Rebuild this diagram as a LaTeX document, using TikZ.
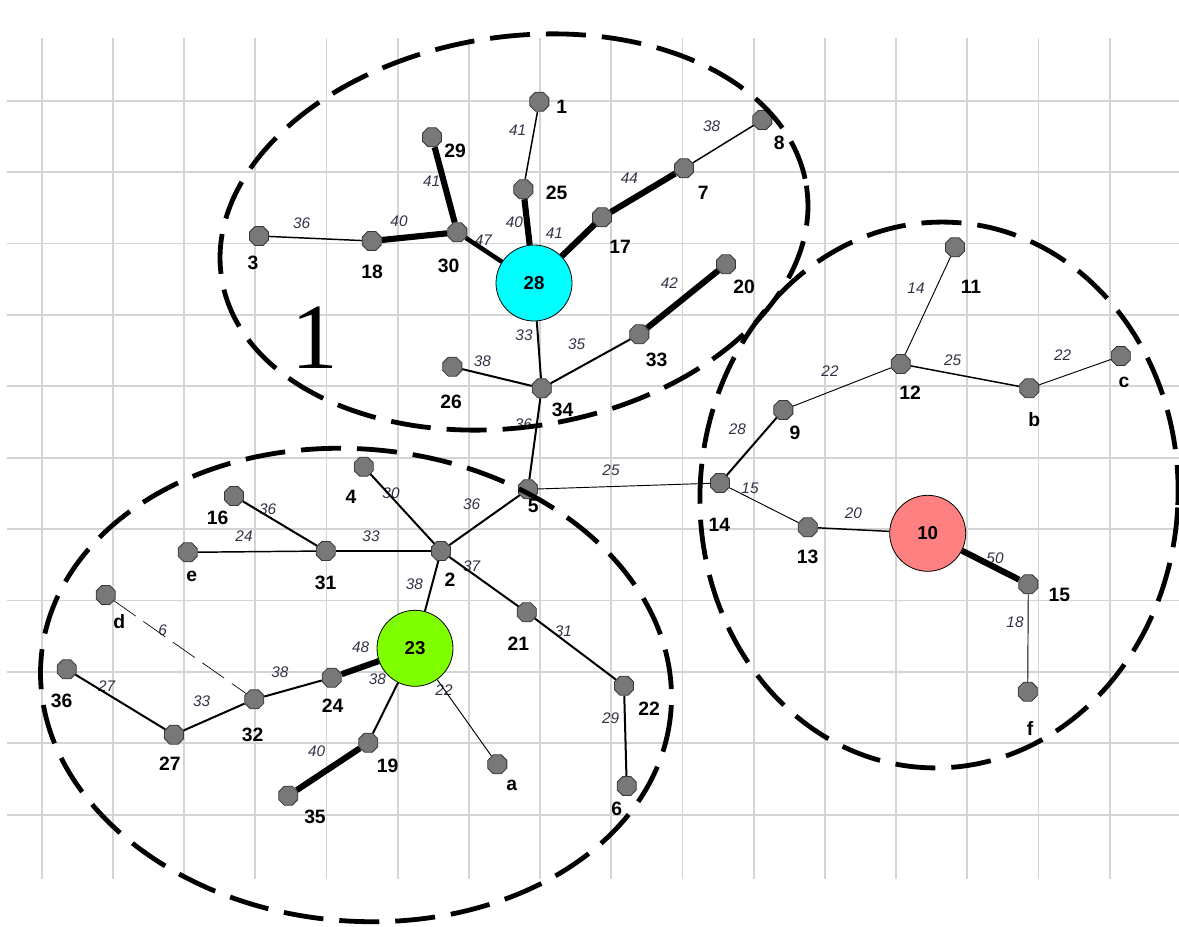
\documentclass[tikz,border=0pt]{standalone}
\usepackage{fontspec}
\setmainfont{Liberation Sans}
\newfontfamily\tagserif{Liberation Serif}
\usetikzlibrary{shapes.geometric}
\pgfdeclarelayer{grid}
\pgfdeclarelayer{edges}
\pgfsetlayers{grid,edges,main}

\definecolor{nodegray}{RGB}{120,120,120}
\definecolor{rimgray}{RGB}{55,55,55}
\definecolor{gridgray}{RGB}{212,212,212}
\definecolor{wtcol}{RGB}{50,50,70}
\definecolor{hubcyan}{RGB}{0,255,255}
\definecolor{hubgreen}{RGB}{128,255,0}
\definecolor{hubred}{RGB}{255,128,128}

\tikzset{
  vtx/.style={regular polygon, regular polygon sides=8, draw=rimgray, fill=nodegray, line width=0.6pt, minimum size=15.5pt, inner sep=0pt},
  hub/.style={circle, draw=black, line width=0.6pt, minimum size=57pt, inner sep=0pt, font=\fontsize{14}{14}\selectfont\bfseries},
  lbl/.style={inner sep=0pt, font=\fontsize{14.5}{14.5}\selectfont\bfseries},
  wt/.style={inner sep=0pt, text=wtcol, font=\fontsize{11.5}{11.5}\selectfont\itshape},
  gridline/.style={draw=gridgray, line width=1.4pt},
  ring/.style={draw=black, line width=3.6pt, dash pattern=on 30pt off 12pt},
  edgeA/.style={line width=0.7pt},
  edgeB/.style={line width=1.1pt},
  edgeC/.style={line width=1.5pt},
  edgeD/.style={line width=3.4pt},
  edgeE/.style={line width=4.6pt},
  faint/.style={line width=0.5pt, dash pattern=on 20pt off 7pt}
}

\begin{document}
\begin{tikzpicture}[x=0.75pt,y=0.75pt,yscale=-1,xscale=1]
\useasboundingbox (0,0) rectangle (1179,927);

%Grid
\begin{pgfonlayer}{grid}
\foreach \gx in {0,...,15}
  \draw[gridline] ({41.7+71.2*\gx},38) -- ({41.7+71.2*\gx},879);
\foreach \gy in {0,...,10}
  \draw[gridline] (7,{100.7+71.4*\gy}) -- (1179,{100.7+71.4*\gy});
\end{pgfonlayer}

%Shape: big nodes
\node[hub, fill=hubcyan] (n28) at (534,283) {28};
\node[hub, fill=hubgreen] (n23) at (415,648.3) {23};
\node[hub, fill=hubred] (n10) at (927.7,533.3) {10};

%Shape: small nodes
\node[vtx] (n1) at (539.3,101.7) {};
\node[vtx] (n29) at (432,137.3) {};
\node[vtx] (n25) at (523.3,189.3) {};
\node[vtx] (n3) at (259,236) {};
\node[vtx] (n18) at (371.7,241) {};
\node[vtx] (n30) at (457.3,232.3) {};
\node[vtx] (n8) at (762.3,120) {};
\node[vtx] (n7) at (684,168.3) {};
\node[vtx] (n17) at (602,217.3) {};
\node[vtx] (n20) at (726,264.3) {};
\node[vtx] (n33) at (639.3,334.3) {};
\node[vtx] (n26) at (452.3,366.7) {};
\node[vtx] (n34) at (541.7,388.3) {};
\node[vtx] (n5) at (528,489.3) {};
\node[vtx] (n14) at (720,483) {};
\node[vtx] (n4) at (363.7,466.7) {};
\node[vtx] (n16) at (234,496) {};
\node[vtx] (ne) at (187.7,552.3) {};
\node[vtx] (n31) at (325.7,551) {};
\node[vtx] (n2) at (441,551) {};
\node[vtx] (nd) at (105.7,595) {};
\node[vtx] (n36) at (66.7,669.3) {};
\node[vtx] (n27) at (174,734.7) {};
\node[vtx] (n32) at (254.3,699.3) {};
\node[vtx] (n24) at (331.7,677.7) {};
\node[vtx] (n35) at (288.3,795.7) {};
\node[vtx] (n21) at (526.7,612.3) {};
\node[vtx] (n22) at (624,685.7) {};
\node[vtx] (n19) at (368.3,742.7) {};
\node[vtx] (na) at (497.3,764.3) {};
\node[vtx] (n6) at (626.7,786) {};
\node[vtx] (n11) at (955,247.3) {};
\node[vtx] (n12) at (900.7,364) {};
\node[vtx] (nb) at (1029.3,388.3) {};
\node[vtx] (nc) at (1120.7,356) {};
\node[vtx] (n9) at (783.3,410) {};
\node[vtx] (n13) at (807.7,527.3) {};
\node[vtx] (n15) at (1028.3,584.3) {};
\node[vtx] (nf) at (1027.7,691.7) {};

% Text Node: vertex names
\node[lbl] (l1) at (561.7,106.7) {1};
\node[lbl] (l29) at (455,151) {29};
\node[lbl] (l25) at (556.7,193.3) {25};
\node[lbl] (l3) at (253,263) {3};
\node[lbl] (l18) at (372,271.7) {18};
\node[lbl] (l30) at (448.7,265.7) {30};
\node[lbl] (l8) at (779.3,143.3) {8};
\node[lbl] (l7) at (703.3,193.3) {7};
\node[lbl] (l17) at (620,247.3) {17};
\node[lbl] (l20) at (744,286.7) {20};
\node[lbl] (l33) at (656.7,360) {33};
\node[lbl] (l26) at (451,401.7) {26};
\node[lbl] (l34) at (562.7,410) {34};
\node[lbl] (l5) at (533.3,506) {5};
\node[lbl] (l14) at (719.3,525) {14};
\node[lbl] (l4) at (351,496.7) {4};
\node[lbl] (l16) at (217.7,518.3) {16};
\node[lbl] (le) at (191.7,576.7) {e};
\node[lbl] (l31) at (325.7,583.3) {31};
\node[lbl] (l2) at (450,579.3) {2};
\node[lbl] (ld) at (119.3,621.7) {d};
\node[lbl] (l36) at (61.7,701) {36};
\node[lbl] (l27) at (170,763.3) {27};
\node[lbl] (l32) at (252.7,735) {32};
\node[lbl] (l24) at (332.7,706) {24};
\node[lbl] (l35) at (315,817.3) {35};
\node[lbl] (l21) at (518.3,643.3) {21};
\node[lbl] (l22) at (649,708.3) {22};
\node[lbl] (l19) at (387.7,766) {19};
\node[lbl] (la) at (511.7,785) {a};
\node[lbl] (l6) at (616.7,809.3) {6};
\node[lbl] (l11) at (971,286.7) {11};
\node[lbl] (l12) at (910,392.3) {12};
\node[lbl] (lb) at (1034.3,419.3) {b};
\node[lbl] (lc) at (1124,382.7) {c};
\node[lbl] (l9) at (795,433.3) {9};
\node[lbl] (l13) at (807.7,557.3) {13};
\node[lbl] (l15) at (1059.3,595) {15};
\node[lbl] (lf) at (1030,728.3) {f};

\begin{pgfonlayer}{edges}
% Text Node: weights
\node[wt] (w3-18) at (301.7,223.3) {36};
\node[wt] (w18-30) at (399,221.7) {40};
\node[wt] (w29-30) at (431.7,181.7) {41};
\node[wt] (w30-28) at (483.3,240.7) {47};
\node[wt] (w1-25) at (517.7,130) {41};
\node[wt] (w25-28) at (514.3,222.7) {40};
\node[wt] (w28-17) at (554.3,233.3) {41};
\node[wt] (w17-7) at (629.3,178.3) {44};
\node[wt] (w7-8) at (711.7,126.7) {38};
\node[wt] (w33-20) at (669.3,283.3) {42};
\node[wt] (w28-34) at (524,335) {33};
\node[wt] (w34-33) at (576.7,344) {35};
\node[wt] (w26-34) at (482.3,361) {38};
\node[wt] (w34-5) at (523.3,424) {36};
\node[wt] (w5-14) at (611,470) {25};
\node[wt] (w2-5) at (471.7,504) {36};
\node[wt] (w14-9) at (737.3,429.3) {28};
\node[wt] (w14-13) at (750,488.3) {15};
\node[wt] (w16-31) at (267.7,509.3) {36};
\node[wt] (we-31) at (244,536) {24};
\node[wt] (w4-2) at (391,493.3) {30};
\node[wt] (w31-2) at (371,536) {33};
\node[wt] (w2-23) at (414.3,584.3) {38};
\node[wt] (w2-21) at (471.7,566.7) {37};
\node[wt] (wd-32) at (162.7,630) {6};
\node[wt] (w36-27) at (106.7,686) {27};
\node[wt] (w27-32) at (201.7,701.7) {33};
\node[wt] (w32-24) at (280,672.3) {38};
\node[wt] (w19-35) at (316.7,751.7) {40};
\node[wt] (w24-23) at (360.7,647.3) {48};
\node[wt] (w23-19) at (377.3,679.3) {38};
\node[wt] (w23-a) at (444,690) {22};
\node[wt] (w21-22) at (563.3,631.7) {31};
\node[wt] (w22-6) at (610.7,718.3) {29};
\node[wt] (w12-11) at (916,288.3) {14};
\node[wt] (w9-12) at (830,370.7) {22};
\node[wt] (w12-b) at (952.7,360) {25};
\node[wt] (wb-c) at (1062.7,355) {22};
\node[wt] (w13-10) at (853.3,513.3) {20};
\node[wt] (w10-15) at (995,558.3) {50};
\node[wt] (w15-f) at (1015,622.7) {18};

%Straight Lines
\draw[edgeB] (n3) -- (n18);
\draw[edgeE] (n18) -- (n30);
\draw[edgeE] (n29) -- (n30);
\draw[edgeD] (n30) -- (n28);
\draw[edgeB] (n1) -- (n25);
\draw[edgeE] (n25) -- (n28);
\draw[edgeE] (n28) -- (n17);
\draw[edgeE] (n17) -- (n7);
\draw[edgeB] (n7) -- (n8);
\draw[edgeC] (n28) -- (n34);
\draw[edgeC] (n34) -- (n33);
\draw[edgeE] (n33) -- (n20);
\draw[edgeC] (n26) -- (n34);
\draw[edgeC] (n34) -- (n5);
\draw[edgeA] (n5) -- (n14);
\draw[edgeC] (n2) -- (n5);
\draw[edgeC] (n4) -- (n2);
\draw[edgeC] (n16) -- (n31);
\draw[edgeB] (ne) -- (n31);
\draw[edgeC] (n31) -- (n2);
\draw[edgeC] (n2) -- (n23);
\draw[edgeC] (n2) -- (n21);
\draw[edgeC] (n21) -- (n22);
\draw[edgeC] (n22) -- (n6);
\draw[edgeA] (n23) -- (na);
\draw[edgeC] (n23) -- (n19);
\draw[edgeE] (n19) -- (n35);
\draw[edgeE] (n24) -- (n23);
\draw[edgeC] (n32) -- (n24);
\draw[edgeC] (n27) -- (n32);
\draw[edgeC] (n36) -- (n27);
\draw[faint] (nd) -- (n32);
\draw[edgeC] (n14) -- (n9);
\draw[edgeA] (n9) -- (n12);
\draw[edgeA] (n12) -- (n11);
\draw[edgeB] (n12) -- (nb);
\draw[edgeA] (nb) -- (nc);
\draw[edgeA] (n14) -- (n13);
\draw[edgeB] (n13) -- (n10);
\draw[edgeE] (n10) -- (n15);
\draw[edgeA] (n15) -- (nf);
\end{pgfonlayer}

% Text Node: group number
\node[inner sep=0pt, font=\tagserif\fontsize{70}{70}\selectfont] (tag1) at (315,338) {1};

%Shape: dashed groups
\draw[ring] (514,232) circle [x radius=296, y radius=195, rotate=-9];
\draw[ring] (356,685) circle [x radius=316, y radius=236, rotate=5];
\draw[ring] (939,495) circle [x radius=239, y radius=273, rotate=3];

\end{tikzpicture}
\end{document}
